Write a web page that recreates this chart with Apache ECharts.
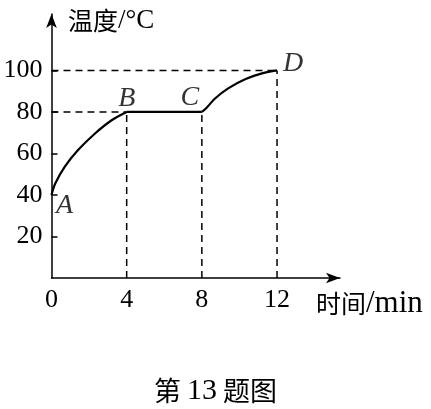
<!DOCTYPE html>
<html><head><meta charset="utf-8">
<script src="https://cdn.jsdelivr.net/npm/echarts@6/dist/echarts.min.js"></script>
<style>html,body{margin:0;padding:0;background:#fff}#c{width:431px;height:409px}</style>
</head><body><div id="c"></div>
<script>
// Data
const xTicks = [0, 4, 8, 12];
const yTicks = [20, 40, 60, 80, 100];
const curveAB = [[0, 40], [0.2, 45.5], [0.7, 53.5], [1.4, 61.5], [2.3, 69.5], [3.2, 76], [4, 80]];
const segBC = [[4, 80], [8, 80]];
const curveCD = [[8, 80], [8.2, 81.5], [8.7, 86.5], [9.4, 91.4], [10.3, 95.8], [11.2, 98.6], [12, 100]];
const pointNames = ['A', 'B', 'C', 'D'];
const pointT = [0, 4, 8, 12];
const pointV = [40, 80, 80, 100];
const hGuides = ['B', 'D'];
const vGuides = ['B', 'C', 'D'];
const xNameCJK = '时间', xNameLatin = '/min';
const yNameCJK = '温度', yNameLatin = '/°C';
const captionCJK1 = '第 ', captionNum = '13', captionCJK2 = ' 题图';

const serif = 'Liberation Serif';
const cjkFont = 'Noto Sans CJK SC';
const labelOffsets = { A: [13, 11], B: [0, -13], C: [-12, -14], D: [16, -7] };

const series = [];
const idx = n => pointNames.indexOf(n);
const dash = { color: '#000', width: 1.5, type: [7, 5] };
hGuides.forEach(n => {
  const i = idx(n);
  series.push({ type: 'line', data: [[0, pointV[i]], [pointT[i], pointV[i]]], symbol: 'none', lineStyle: dash, silent: true });
});
vGuides.forEach(n => {
  const i = idx(n);
  series.push({ type: 'line', data: [[pointT[i], 0], [pointT[i], pointV[i]]], symbol: 'none', lineStyle: dash, silent: true });
});
[curveAB, segBC, curveCD].forEach(d => {
  series.push({ type: 'line', data: d, symbol: 'none', smooth: 0.35, lineStyle: { color: '#000', width: 2.2 } });
});
series.push({
  type: 'scatter', symbolSize: 0,
  data: pointNames.map((n, i) => ({ value: [pointT[i], pointV[i]], name: n,
    label: { show: true, position: 'inside', offset: labelOffsets[n], formatter: n,
      fontFamily: serif, fontStyle: 'italic', fontSize: 28, color: '#000' } }))
});

const chart = echarts.init(document.getElementById('c'), null, { renderer: 'canvas' });
chart.setOption({
  animation: false,
  backgroundColor: '#fff',
  grid: { left: 51.5, top: 14, width: 288.5, height: 264 },
  xAxis: {
    type: 'value', min: 0, max: 15.35,
    splitLine: { show: false },
    axisLine: { lineStyle: { color: '#000', width: 1.5 }, symbol: ['none', 'arrow'], symbolSize: [8, 14] },
    axisTick: { show: false },
    axisLabel: { customValues: xTicks, color: '#000', fontFamily: serif, fontSize: 26, margin: 9 }
  },
  yAxis: {
    type: 'value', min: 0, max: 127.2,
    splitLine: { show: false },
    axisLine: { lineStyle: { color: '#000', width: 1.5 }, symbol: ['none', 'arrow'], symbolSize: [8, 14] },
    axisTick: { customValues: yTicks, inside: true, length: 6, lineStyle: { color: '#000', width: 1.5 } },
    axisLabel: { customValues: yTicks, color: '#000', fontFamily: serif, fontSize: 26, margin: 9 }
  },
  graphic: [
    { type: 'text', left: 68, top: 7,
      style: { rich: { c: { fontFamily: cjkFont, fontSize: 25, fill: '#000' }, l: { fontFamily: serif, fontSize: 27, fill: '#000' } },
        text: '{c|' + yNameCJK + '}{l|' + yNameLatin + '}', fill: '#000' } },
    { type: 'text', left: 316, top: 288,
      style: { rich: { c: { fontFamily: cjkFont, fontSize: 25, fill: '#000' }, l: { fontFamily: serif, fontSize: 31, fill: '#000' } },
        text: '{c|' + xNameCJK + '}{l|' + xNameLatin + '}', fill: '#000' } },
    { type: 'text', left: 'center', top: 376,
      style: { rich: { c: { fontFamily: cjkFont, fontSize: 27, fill: '#000' }, l: { fontFamily: serif, fontSize: 30, fill: '#000' } },
        text: '{c|' + captionCJK1 + '}{l|' + captionNum + '}{c|' + captionCJK2 + '}', fill: '#000' } }
  ],
  series
});
</script></body></html>
